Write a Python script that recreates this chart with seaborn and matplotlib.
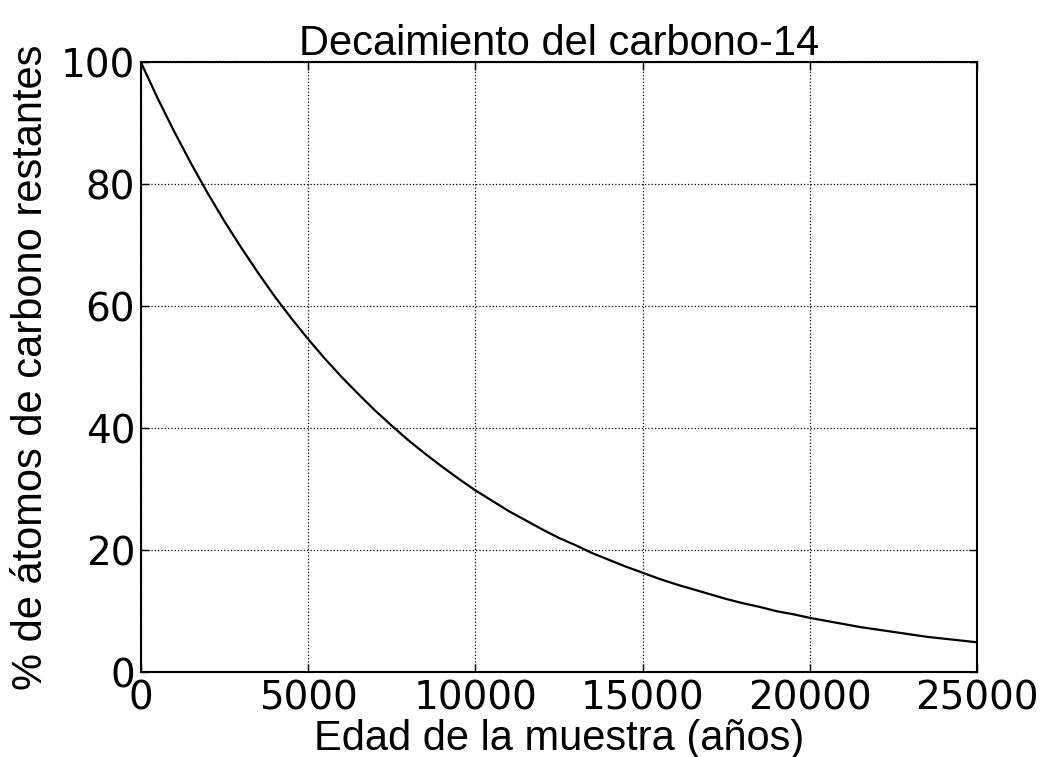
import pandas as pd
import matplotlib
matplotlib.use('Agg')
import matplotlib.pyplot as plt
import seaborn as sns

# Values, every 500 years
edad = [0, 500, 1000, 1500, 2000, 2500, 3000, 3500, 4000, 4500,
        5000, 5500, 6000, 6500, 7000, 7500, 8000, 8500, 9000, 9500,
        10000, 10500, 11000, 11500, 12000, 12500, 13000, 13500, 14000, 14500,
        15000, 15500, 16000, 16500, 17000, 17500, 18000, 18500, 19000, 19500,
        20000, 20500, 21000, 21500, 22000, 22500, 23000, 23500, 24000, 24500,
        25000]
restante = [100.0, 94.1, 88.6, 83.4, 78.5, 73.9, 69.6, 65.5, 61.6, 58.0,
            54.6, 51.4, 48.4, 45.6, 42.9, 40.4, 38.0, 35.8, 33.7, 31.7,
            29.8, 28.1, 26.4, 24.9, 23.4, 22.0, 20.8, 19.5, 18.4, 17.3,
            16.3, 15.3, 14.4, 13.6, 12.8, 12.0, 11.3, 10.7, 10.0, 9.5,
            8.9, 8.4, 7.9, 7.4, 7.0, 6.6, 6.2, 5.8, 5.5, 5.2,
            4.9]
xticks = [0, 5000, 10000, 15000, 20000, 25000]
yticks = [0, 20, 40, 60, 80, 100]

df = pd.DataFrame({'edad': edad, 'restante': restante})

sns.set_style('ticks')
plt.rcParams['font.family'] = ['DejaVu Sans']
plt.rcParams['text.color'] = 'black'
plt.rcParams['axes.labelcolor'] = 'black'
plt.rcParams['xtick.color'] = 'black'
plt.rcParams['ytick.color'] = 'black'

fig, ax = plt.subplots(figsize=(10.43, 7.57), dpi=100)
fig.subplots_adjust(left=0.135, right=0.937, top=0.918, bottom=0.112)

sns.lineplot(data=df, x='edad', y='restante', color='black', linewidth=1.6, ax=ax)

ax.set_xlim(0, 25000)
ax.set_ylim(0, 100)
ax.set_xticks(xticks)
ax.set_yticks(yticks)
ax.tick_params(direction='in', length=6, width=1, labelsize=28, pad=4,
               top=True, right=True)
ax.tick_params(axis='x', pad=5)
ax.grid(True, color='black', linestyle=':', linewidth=0.9)
for s in ax.spines.values():
    s.set_linewidth(1.5)
    s.set_color('black')

lab = dict(fontsize=30, family='Liberation Sans', color='black')
ax.set_title('Decaimiento del carbono-14', pad=5, **lab)
ax.set_xlabel('Edad de la muestra (años)', labelpad=1, **lab)
ax.set_ylabel('% de átomos de carbono restantes', labelpad=7, **lab)

fig.savefig('out.png', dpi=100, facecolor='white')
plt.close(fig)
